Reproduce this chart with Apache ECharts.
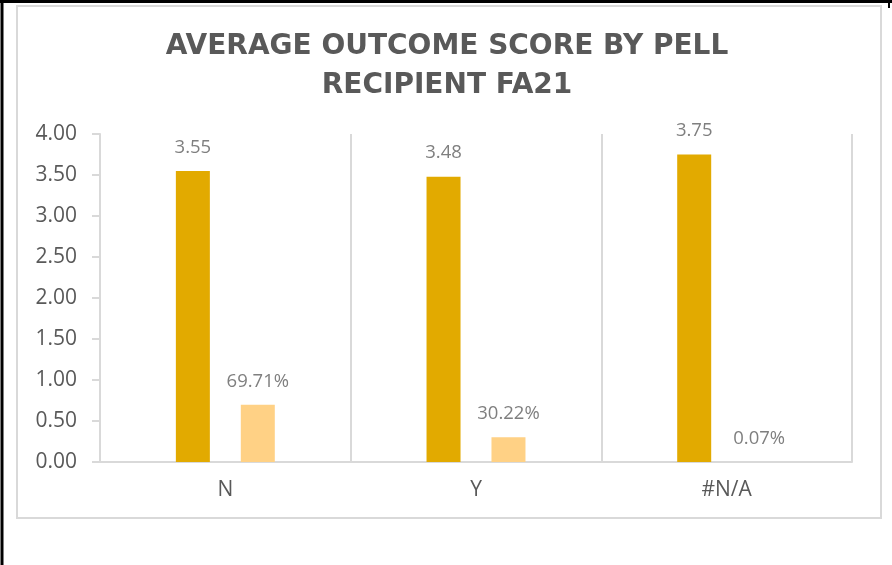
<!DOCTYPE html>
<html>
<head>
<meta charset="utf-8">
<script src="https://cdn.jsdelivr.net/npm/echarts@6/dist/echarts.min.js"></script>
<style>
html,body{margin:0;padding:0;background:#fff;}
#chart{width:892px;height:565px;}
</style>
</head>
<body>
<div id="chart"></div>
<script>
var titleText = 'AVERAGE OUTCOME SCORE BY PELL\nRECIPIENT FA21';
var categories = ['N', 'Y', '#N/A'];
var avgScore = [3.55, 3.48, 3.75];
var shareOfStudents = [0.6971, 0.3022, 0.0007];
var yTicks = [0, 4, 0.5];

var chart = echarts.init(document.getElementById('chart'), null, {renderer: 'canvas'});
var gridColor = '#d9d9d9';
var option = {
  backgroundColor: '#ffffff',
  animation: false,
  title: {
    text: titleText,
    left: 442,
    top: 22,
    textAlign: 'center',
    textStyle: {
      fontFamily: 'DejaVu Sans',
      fontWeight: 'bold',
      fontSize: 28,
      lineHeight: 39,
      color: '#595959'
    }
  },
  graphic: [
    {type: 'rect', silent: true, shape: {x: 17, y: 6, width: 864, height: 512},
     style: {fill: 'none', stroke: gridColor, lineWidth: 2}},
    {type: 'line', silent: true, shape: {x1: 0, y1: 1.5, x2: 892, y2: 1.5},
     style: {stroke: '#000', lineWidth: 3}},
    {type: 'line', silent: true, shape: {x1: 2, y1: 0, x2: 2, y2: 565},
     style: {stroke: '#000', lineWidth: 3}},
    {type: 'line', silent: true, shape: {x1: 889, y1: 0, x2: 889, y2: 8},
     style: {stroke: '#000', lineWidth: 2}}
  ],
  grid: {left: 100, top: 134, width: 752, height: 328},
  xAxis: {
    type: 'category',
    data: categories,
    axisLine: {show: true, lineStyle: {color: gridColor, width: 2}},
    axisTick: {show: false},
    splitLine: {show: true, lineStyle: {color: gridColor, width: 2}},
    axisLabel: {
      margin: 18,
      fontFamily: 'Open Sans',
      fontSize: 21,
      color: '#595959'
    }
  },
  yAxis: {
    type: 'value',
    min: yTicks[0],
    max: yTicks[1],
    interval: yTicks[2],
    axisLine: {show: true, lineStyle: {color: gridColor, width: 2}},
    axisTick: {show: true, length: 8, lineStyle: {color: gridColor, width: 2}},
    splitLine: {show: false},
    axisLabel: {
      margin: 23,
      fontFamily: 'Open Sans',
      fontSize: 21,
      color: '#595959',
      formatter: function (v) { return v.toFixed(2); }
    }
  },
  series: [
    {
      type: 'bar',
      data: avgScore,
      barWidth: 34,
      barGap: '91%',
      itemStyle: {color: '#E2AA00'},
      label: {
        show: true,
        position: 'top',
        distance: 14,
        fontFamily: 'Open Sans',
        fontSize: 18.5,
        color: '#7f7f7f',
        formatter: function (p) { return p.value.toFixed(2); }
      }
    },
    {
      type: 'bar',
      data: shareOfStudents,
      barWidth: 34,
      barGap: '91%',
      itemStyle: {color: '#FFD185'},
      label: {
        show: true,
        position: 'top',
        distance: 14,
        fontFamily: 'Open Sans',
        fontSize: 18.5,
        color: '#7f7f7f',
        formatter: function (p) { return (p.value * 100).toFixed(2) + '%'; }
      }
    }
  ]
};
chart.setOption(option);
</script>
</body>
</html>
